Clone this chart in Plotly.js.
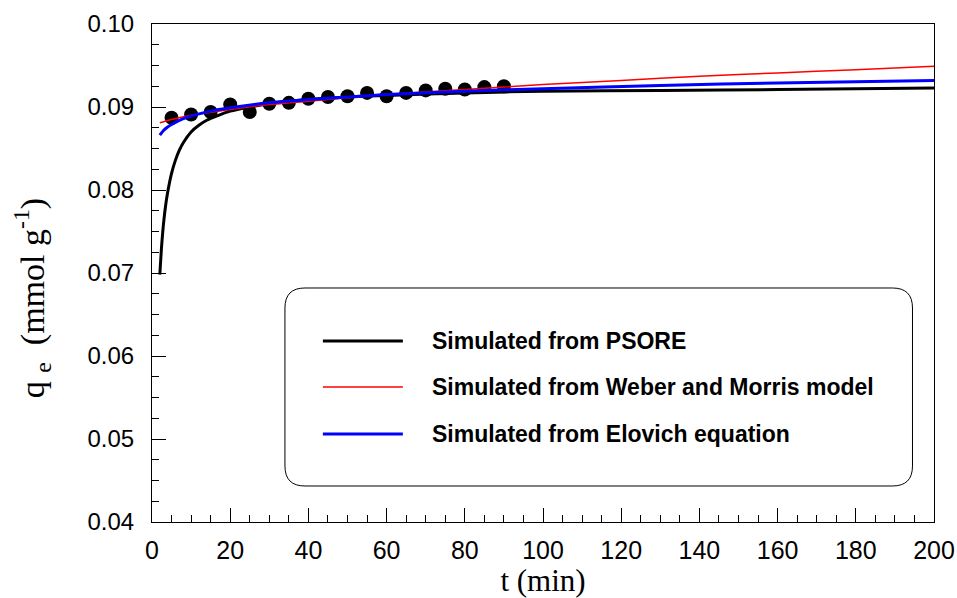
<!DOCTYPE html>
<html>
<head>
<meta charset="utf-8">
<script src="https://cdn.plot.ly/plotly-3.0.1.min.js"></script>
<style>html,body{margin:0;padding:0;background:#fff;}#chart{width:957px;height:598px;}</style>
</head>
<body>
<div id="chart"></div>
<script>
// Experimental points
var expT = [5,10,15,20,25,30,35,40,45,50,55,60,65,70,75,80,85,90];
var expQ = [0.0887,0.0891,0.0894,0.0903,0.0894,0.0904,0.0905,0.0910,0.0912,0.0913,0.0917,0.0913,0.0917,0.0920,0.0922,0.0921,0.0924,0.0925];

// Simulated from PSORE
var psoT = [2,2.5,3,3.5,4,5,6,7,8,10,12,14,17,20,25,30,40,50,60,80,100,130,160,200];
var psoQ = [0.0698,0.0735,0.0762,0.0782,0.0797,0.0820,0.0836,0.0848,0.0857,0.0870,0.0878,0.0884,0.0890,0.0895,0.0900,0.0904,0.0909,0.0912,0.0914,0.0917,0.0919,0.0920,0.0921,0.0923];

// Simulated from Weber and Morris model
var wmT = [2,5,10,20,30,40,50,60,80,100,120,140,160,180,200];
var wmQ = [0.0881,0.0885,0.0890,0.0897,0.0903,0.0907,0.0911,0.0915,0.0921,0.0927,0.0932,0.0937,0.0941,0.0945,0.0949];

// Simulated from Elovich equation
var elT = [2,3,4,5,7,10,15,20,30,40,50,60,80,100,130,160,200];
var elQ = [0.0866,0.0872,0.0876,0.0879,0.0884,0.0889,0.0895,0.0899,0.0905,0.0909,0.0912,0.0915,0.0919,0.0922,0.0926,0.0929,0.0932];

var seriesNames = ["Simulated from PSORE","Simulated from Weber and Morris model","Simulated from Elovich equation"];
var seriesColors = ["#000000","#ff0000","#0000ff"];
var seriesWidths = [3,1.5,3];

var xTickVals = [0,20,40,60,80,100,120,140,160,180,200];
var yTickVals = [0.04,0.05,0.06,0.07,0.08,0.09,0.10];
var yTickText = ["0.04","0.05","0.06","0.07","0.08","0.09","0.10"];

var traces = [
  {x: expT, y: expQ, mode: 'markers', type: 'scatter', marker: {color: '#000', size: 14}, showlegend: false},
  {x: psoT, y: psoQ, mode: 'lines', type: 'scatter', line: {color: seriesColors[0], width: seriesWidths[0], shape: 'spline', smoothing: 0.8}, name: seriesNames[0], showlegend: false},
  {x: wmT, y: wmQ, mode: 'lines', type: 'scatter', line: {color: seriesColors[1], width: seriesWidths[1], shape: 'spline', smoothing: 0.8}, name: seriesNames[1], showlegend: false},
  {x: elT, y: elQ, mode: 'lines', type: 'scatter', line: {color: seriesColors[2], width: seriesWidths[2], shape: 'spline', smoothing: 0.8}, name: seriesNames[2], showlegend: false}
];

// Legend box (rounded rectangle, paper coords)
var bx0 = 0.170, bx1 = 0.9725, by0 = 0.0723, by1 = 0.4699, rx = 0.0256, ry = 0.0402;
var boxPath = 'M' + (bx0+rx) + ',' + by1 + ' L' + (bx1-rx) + ',' + by1 +
  ' Q' + bx1 + ',' + by1 + ' ' + bx1 + ',' + (by1-ry) +
  ' L' + bx1 + ',' + (by0+ry) +
  ' Q' + bx1 + ',' + by0 + ' ' + (bx1-rx) + ',' + by0 +
  ' L' + (bx0+rx) + ',' + by0 +
  ' Q' + bx0 + ',' + by0 + ' ' + bx0 + ',' + (by0+ry) +
  ' L' + bx0 + ',' + (by1-ry) +
  ' Q' + bx0 + ',' + by1 + ' ' + (bx0+rx) + ',' + by1 + ' Z';

var shapes = [{type: 'path', xref: 'paper', yref: 'paper', path: boxPath, line: {color: '#000', width: 1}, fillcolor: 'rgba(0,0,0,0)'}];
var annotations = [];
var rowY = [0.3635, 0.2711, 0.1767];
for (var i = 0; i < 3; i++) {
  shapes.push({type: 'line', xref: 'paper', yref: 'paper', x0: 0.2185, x1: 0.3208, y0: rowY[i], y1: rowY[i],
    line: {color: seriesColors[i], width: seriesWidths[i]}});
  annotations.push({xref: 'paper', yref: 'paper', x: 0.3553, y: rowY[i], xanchor: 'left', yanchor: 'middle',
    text: '<b>' + seriesNames[i] + '</b>', showarrow: false,
    font: {family: 'Liberation Sans, Arial, sans-serif', size: 23, color: '#000'}});
}
// y-axis title (as rotated text, positioned like the reference)
annotations.push({xref: 'paper', yref: 'paper', x: -0.153, y: 0.45, xanchor: 'center', yanchor: 'middle',
  textangle: -90, showarrow: false,
  text: 'q\u00A0<sub>e</sub>\u00A0\u00A0(mmol\u00A0g<sup>-1</sup>)',
  font: {family: 'Liberation Serif, Times New Roman, serif', size: 34, color: '#000'}});

var layout = {
  width: 957, height: 598,
  margin: {l: 152, r: 22.5, t: 24, b: 76},
  paper_bgcolor: '#fff', plot_bgcolor: '#fff',
  showlegend: false,
  xaxis: {
    range: [0, 200], tickvals: xTickVals, ticks: 'inside', ticklen: 14, tickwidth: 1, tickcolor: '#000',
    showline: true, linecolor: '#000', linewidth: 1, mirror: true, showgrid: false, zeroline: false,
    minor: {dtick: 5, ticks: 'inside', ticklen: 7, tickwidth: 1, tickcolor: '#000', showgrid: false},
    tickfont: {family: 'Liberation Sans, Arial, sans-serif', size: 25, color: '#000'},
    ticklabelstandoff: 6,
    title: {text: 't (min)', font: {family: 'Liberation Serif, Times New Roman, serif', size: 31, color: '#000'}, standoff: 5}
  },
  yaxis: {
    range: [0.04, 0.10], tickvals: yTickVals, ticktext: yTickText, ticks: 'inside', ticklen: 14, tickwidth: 1, tickcolor: '#000',
    showline: true, linecolor: '#000', linewidth: 1, mirror: true, showgrid: false, zeroline: false,
    minor: {dtick: 0.0025, ticks: 'inside', ticklen: 7, tickwidth: 1, tickcolor: '#000', showgrid: false},
    tickfont: {family: 'Liberation Sans, Arial, sans-serif', size: 24, color: '#000'},
    ticklabelstandoff: 12
  },
  shapes: shapes,
  annotations: annotations
};

Plotly.newPlot('chart', traces, layout, {displayModeBar: false, staticPlot: true});
</script>
</body>
</html>
